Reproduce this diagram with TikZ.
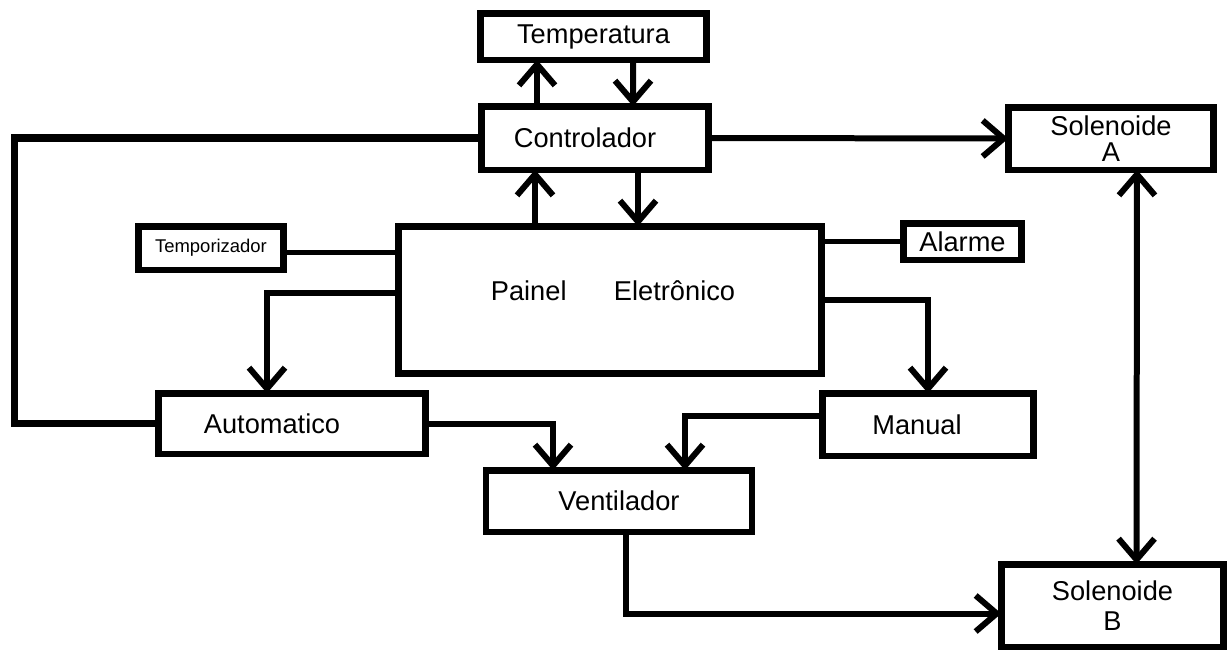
\documentclass[tikz,border=0pt]{standalone}
\usepackage{fontspec}
\setmainfont{Liberation Sans}
\usetikzlibrary{arrows.meta, calc}

\tikzset{
box/.style={draw, rectangle, line width=0.13cm, inner sep=0pt, outer sep=0pt, align=center, font=\fontsize{15.5}{15}\selectfont},
barb/.tip={Straight Barb[length=0.42cm, width=0.72cm]},
arr/.style={-barb, line width=0.12cm},
link/.style={line width=0.12cm},
lead/.style={line width=0.1cm}
}

\begin{document}
\begin{tikzpicture}[x=0.02cm, y=-0.02cm]
\useasboundingbox (0,0) rectangle (1228,650);

%blocos
\node[box, minimum width=4.53cm, minimum height=0.93cm] (temp) at (593.5,36.5) {Temperatura};
\node[box, minimum width=4.55cm, minimum height=1.27cm] (ctrl) at (595,138) {Controlador\hspace*{0.4cm}};
\node[box, minimum width=4.11cm, minimum height=1.25cm] (solA) at (1111,138.5) {Solenoide\\A};
\node[box, minimum width=2.91cm, minimum height=0.87cm, font=\fontsize{10.5}{12}\selectfont] (timer) at (211,248) {Temporizador};
\node[box, minimum width=8.47cm, minimum height=2.95cm] (panel) at (610,300) {};
\node[font=\fontsize{15.5}{15}\selectfont] (paineltxt) at ($(panel.center)+(3,-9)$) {Painel\hspace{27pt}Eletrônico};
\node[box, minimum width=2.37cm, minimum height=0.73cm] (alarm) at (962.5,241.5) {Alarme};
\node[box, minimum width=5.35cm, minimum height=1.21cm] (auto) at (292,423.5) {Automatico\hspace*{0.8cm}};
\node[box, minimum width=4.23cm, minimum height=1.25cm] (manual) at (928,424.5) {Manual\hspace*{0.44cm}};
\node[box, minimum width=5.33cm, minimum height=1.23cm] (vent) at (619,501) {Ventilador};
\node[box, minimum width=4.45cm, minimum height=1.65cm] (solB) at (1112.5,605.5) {Solenoide\\[2pt]B};

%ligacoes
\draw[arr] ($(ctrl.north)+(-58,0)$) -- ($(temp.south)+(-56.5,0)$);
\draw[arr] ($(temp.south)+(39.5,0)$) -- ($(ctrl.north)+(38,0)$);

\draw[arr] ($(panel.north)+(-75,0)$) -- ($(ctrl.south)+(-60,0)$);
\draw[arr] ($(ctrl.south)+(43,0)$) -- ($(panel.north)+(28,0)$);

\draw[arr] (ctrl.east) -- (solA.west);

\draw[link, line width=0.15cm] (ctrl.west) -- ++(-467,0) |- (auto.west);

\draw[lead] ($(timer.east)+(0,4)$) -- ($(timer.east -| panel.west)+(0,4)$);
\draw[arr] ($(panel.west)+(0,-7)$) -| ($(auto.north)+(-25,0)$);

\draw[arr] (auto.east) -| ($(vent.north)+(-66,0)$);

\draw[lead] (alarm.west -| panel.east) -- (alarm.west);
\draw[arr] (panel.east) -| (manual.north);

\draw[arr] ($(manual.west)+(0,-8.5)$) -| ($(vent.north)+(66,0)$);

\draw[arr] ($(vent.south)+(7,0)$) |- ($(solB.west)+(0,8)$);

\draw[arr, barb-barb] ($(solA.south)+(26,0)$) -- ($(solB.north)+(24,0)$);

\end{tikzpicture}
\end{document}
